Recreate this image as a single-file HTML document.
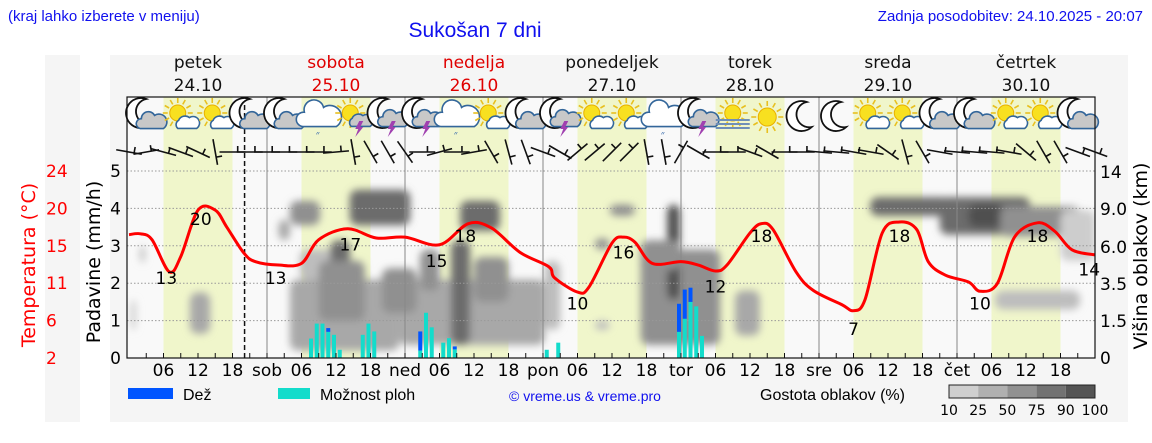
<!DOCTYPE html>
<html><head><meta charset="utf-8"><style>
html,body{margin:0;padding:0;background:#fff;width:1152px;height:443px;overflow:hidden}
svg{display:block}
.t{font-family:"DejaVu Sans","Liberation Sans",sans-serif}
.a{font-family:"Liberation Sans",sans-serif}
</style></head><body>
<svg id="c" width="1152" height="443" viewBox="0 0 1152 443" xmlns="http://www.w3.org/2000/svg">
<defs>
<clipPath id="plotclip"><rect x="127" y="97" width="968" height="261"/></clipPath>
<filter id="blur" x="-30%" y="-30%" width="160%" height="160%"><feGaussianBlur stdDeviation="4"/></filter>
</defs>
<rect x="45" y="55" width="35" height="367" fill="#f5f5f5"/>
<rect x="110" y="55" width="1018" height="367" fill="#f5f5f5"/>
<text x="8" y="21" class="a" font-size="15" fill="#1010ee">(kraj lahko izberete v meniju)</text>
<text x="475" y="37" class="a" font-size="21" fill="#1010ee" text-anchor="middle">Sukošan 7 dni</text>
<text x="1143" y="21" class="a" font-size="15" fill="#1010ee" text-anchor="end">Zadnja posodobitev: 24.10.2025 - 20:07</text>
<rect x="127" y="97" width="968" height="261" fill="#f9f9f9"/>
<g id="bands"></g>
<g id="clouds" clip-path="url(#plotclip)" filter="url(#blur)"></g>
<g id="grid"></g>
<g id="icons"></g>
<g id="wind"></g>
<g id="bars"></g>
<g id="temp"></g>
<g id="axes"></g>
<g id="legend">
<rect x="128" y="388" width="45" height="11" fill="#0055ff"/>
<text x="183" y="400" class="a" font-size="16">Dež</text>
<rect x="278" y="388" width="32" height="11" fill="#13dccb"/>
<text x="320" y="400" class="a" font-size="16">Možnost ploh</text>
<text x="585" y="401" class="a" font-size="14" fill="#1010ee" text-anchor="middle">© vreme.us &amp; vreme.pro</text>
<text x="760" y="400" class="a" font-size="16">Gostota oblakov (%)</text>
</g>
</svg>
<script>
const NS='http://www.w3.org/2000/svg';
// ---- data ----
const dayNames=['petek','sobota','nedelja','ponedeljek','torek','sreda','četrtek'];
const dayDates=['24.10','25.10','26.10','27.10','28.10','29.10','30.10'];
const dayAbbr=['sob','ned','pon','tor','sre','čet'];
const weekend=[false,true,true,false,false,false,false];
const leftTicks=[0,1,2,3,4,5];
const tempTicks=[2,6,11,15,20,24];
const rightTickLabels=['0','1.5','3.5','6.0','9.0','14'];
const tempHours=[0,2,4,7,9,12,15,17,20,22,26,30,33,38,43,48,54,59,63,68,73,74,78,80,84,86,88,91,96,99,102,104,108,110,112,116,119,124,126,128,131,134,137,139,142,146,148,151,154,158,161,164,168];
const tempVals=[16.6,16.7,16.0,12.2,14.0,19.5,19.5,17.5,14.4,13.4,13.0,13.2,16.0,17.3,16.2,16.3,15.4,17.9,17.4,14.5,12.8,11.5,9.8,10.4,15.6,16.3,15.7,13.2,13.4,13.0,12.3,13.0,16.8,17.9,17.2,12.2,10.0,8.3,7.6,8.9,16.8,18.1,17.2,13.4,11.8,11.0,9.9,10.8,16.3,18.0,17.0,14.8,14.2];
const labelHours=[6.5,12.5,25.5,38.5,53.5,58.5,78,86,102,110,126,134,148,158,167];
const labelVals=[13,20,13,17,15,18,10,16,12,18,7,18,10,18,14];
const barHours=[32,33,34,35,36,37,41,42,43,51,52,53,55,56,57,73,75,96,97,98,99,100];
const showerVals=[0.52,0.92,0.92,0.70,0.62,0.22,0.62,0.92,0.71,0.20,1.21,0.82,0.41,0.53,0.23,0.22,0.41,0.70,1.05,1.50,1.38,0.59];
const rainVals=[0,0,0,0.10,0,0,0,0,0,0.51,0,0,0,0,0.08,0,0,0.75,0.78,0.38,0,0];
const iconTypes=['mc','sc','sc','mc','mc','cr','st','mt','mt','cr','sc','mc','mt','sc','sc','cr','mt','fs','s','m','m','sc','sc','mc','mc','sc','sc','mc'];
const windAngles=[10,-10,15,20,25,80,0,0, 0,0,0,0,-5,80,60,60, 55,0,-15,0,-10,60,75,70, 20,30,-40,-40,-45,-45,80,80, -60,30,0,0,20,30,0,0, 5,5,10,10,35,75,60,10, 5,5,5,10,40,60,60,20, 20];
const cloudH0=[0.3,1.9,10.6,28,29.7,35,38.4,28,26,47,56,57.6,50.6,72.3,81,83.6,81,89,93.6,89,105.4,128.9,141,146,151.5,150.6,162,33,44,60];
const cloudH1=[1.2,2.8,14.1,47,36.7,38.4,48.9,33.2,28,72.3,59.3,64.5,54,75,83.6,88,83.6,102.8,95.8,95.8,109.7,142.8,156.7,152,165.4,165.4,168,41,50,66];
const cloudU0=[0.75,2.55,0.65,0.2,2.1,1.3,3.55,3.55,3.15,0.35,0.35,3.4,1.8,0.75,2.9,3.8,0.75,0.35,1.55,2.35,0.6,3.8,3.3,3.5,3.25,1.3,2.6,1.0,1.2,1.5];
const cloudU1=[1.55,3.0,1.75,2.1,2.9,3.15,4.5,4.2,3.7,2.1,3.15,4.2,2.9,2.6,3.2,4.1,1.0,2.9,4.1,3.15,1.8,4.3,4.3,4.1,4.05,1.8,3.95,2.6,2.4,2.7];
const cloudD=[25,35,40,40,35,75,80,60,40,45,80,70,55,35,50,55,35,50,85,60,40,75,70,88,55,35,25,60,55,50];
const cbLabels=['10','25','50','75','90','100'];
const cbColors=['#cfcfcf','#b0b0b0','#919191','#727272','#545454'];
// ---- scales ----
const X=h=>129+h*5.75;
const YP=u=>358-u*37.4;
const YT=t=>358-(t-2)*8.45;
const rightY=[358,321,284,247,209,172];
function mk(tag,attrs,parent,txt){const e=document.createElementNS(NS,tag);for(const k in attrs)e.setAttribute(k,attrs[k]);if(txt!==undefined)e.textContent=txt;parent.appendChild(e);return e;}
const g=id=>document.getElementById(id);
// bands
for(let d=0;d<7;d++){
  const r=mk('rect',{x:X(24*d+6),y:97,width:X(24*d+18)-X(24*d+6),height:261,fill:'#f0f6cb'},g('bands'));
  
  
}
// clouds
function dcol(d){if(d>=85)return '#505050';if(d>=70)return '#6c6c6c';if(d>=50)return '#909090';if(d>=40)return '#a8a8a8';if(d>=30)return '#bdbdbd';return '#cdcdcd';}
for(let i=0;i<cloudD.length;i++){
  const r=mk('rect',{x:X(cloudH0[i]),y:YP(cloudU1[i]),width:X(cloudH1[i])-X(cloudH0[i]),height:YP(cloudU0[i])-YP(cloudU1[i]),rx:8,fill:dcol(cloudD[i])},g('clouds'));
  
  
}
// grid
for(let u=1;u<=5;u++){
  const l=mk('line',{x1:127,x2:1095,y1:YP(u),y2:YP(u),stroke:'#999','stroke-width':1,'stroke-dasharray':'1.5,2'},g('grid'));
  
  
}
for(let d=1;d<7;d++){
  const l=mk('line',{x1:X(24*d),x2:X(24*d),y1:97,y2:358,stroke:'#888','stroke-width':1},g('grid'));
  
  
}
const nowL=mk('line',{x1:X(20.1),x2:X(20.1),y1:97,y2:358,stroke:'#111','stroke-width':1.5,'stroke-dasharray':'5,3'},g('grid'));


// icons
function moon(p,cx,cy){mk('path',{d:`M${cx+5} ${cy-15} A15 15 0 1 0 ${cx+10} ${cy+10} A12 12 0 1 1 ${cx+5} ${cy-15} Z`,fill:'#fff',stroke:'#111','stroke-width':1.8},p);}
function sun(p,cx,cy,r){for(let k=0;k<12;k++){const a=k*Math.PI/6;mk('line',{x1:cx+Math.cos(a)*(r+2),y1:cy+Math.sin(a)*(r+2),x2:cx+Math.cos(a)*(r+7),y2:cy+Math.sin(a)*(r+7),stroke:'#e8c020','stroke-width':1.6},p);}mk('circle',{cx,cy,r,fill:'#f8e020',stroke:'#e8b000'},p);}
function cloud(p,cx,cy,s,fill){mk('path',{d:`M${cx-10*s} ${cy+6*s} A5 5 0 0 1 ${cx-9*s} ${cy-3*s} A7 7 0 0 1 ${cx+3*s} ${cy-6*s} A6 6 0 0 1 ${cx+11*s} ${cy+6*s} Z`,fill,stroke:'#33669a','stroke-width':1.6},p);}
function bolt(p,cx,cy){mk('path',{d:`M${cx} ${cy} l-4 8 h3 l-3 8 l8 -10 h-3 l3 -6 z`,fill:'#a040b0'},p);}
iconTypes.forEach((t,i)=>{
  const cx=X(6*i+3),cy=117;
  const p=mk('g',{},g('icons'));
  
  
  if(t==='mc'){moon(p,cx-5,cy-3);cloud(p,cx+5,cy+5,1.1,'#c8c8c8');}
  else if(t==='sc'){sun(p,cx-3,cy-4,8);cloud(p,cx+6,cy+6,0.9,'#fff');}
  else if(t==='cr'){cloud(p,cx,cy,1.6,'#fff');mk('text',{x:cx-3,y:cy+21,'font-size':11,fill:'#3366aa'},p,'״');}
  else if(t==='st'){sun(p,cx-3,cy-4,8);cloud(p,cx+7,cy+4,0.9,'#c8c8c8');bolt(p,cx+6,cy+4);}
  else if(t==='mt'){moon(p,cx-5,cy-3);cloud(p,cx+5,cy+3,1.1,'#c8c8c8');bolt(p,cx+4,cy+4);}
  else if(t==='fs'){sun(p,cx,cy-4,8);for(let k=0;k<3;k++)mk('rect',{x:cx-17,y:cy+2+k*4,width:34,height:2,fill:'#6f8fb8'},p);}
  else if(t==='s'){sun(p,cx,cy,9);}
  else if(t==='m'){moon(p,cx,cy);}
});
// wind
windAngles.forEach((a,i)=>{
  const cx=X(3*i),cy=152,L=13,r=a*Math.PI/180;
  const dx=Math.cos(r)*L,dy=Math.sin(r)*L;
  const p=mk('g',{stroke:'#111','stroke-width':1.6,fill:'none'},g('wind'));
  
  
  mk('line',{x1:cx-dx,y1:cy-dy,x2:cx+dx,y2:cy+dy},p);
  const px=-Math.sin(r)*6,py=Math.cos(r)*6;
  mk('line',{x1:cx+dx*0.4,y1:cy+dy*0.4,x2:cx+dx*0.4-px,y2:cy+dy*0.4-py},p);
});
// bars
barHours.forEach((h,i)=>{
  const x=X(h)-4;
  const c=mk('rect',{x,y:YP(showerVals[i]),width:4,height:YP(0)-YP(showerVals[i]),fill:'#13dccb'},g('bars'));
  
  
  if(rainVals[i]>0){
    const b=mk('rect',{x,y:YP(showerVals[i]+rainVals[i]),width:4,height:YP(showerVals[i])-YP(showerVals[i]+rainVals[i]),fill:'#0055ff'},g('bars'));
    
    
  }
});
// temperature
const pts=tempHours.map((h,i)=>[X(h),YT(tempVals[i])]);
let d=`M${pts[0][0]} ${pts[0][1]}`;
for(let i=0;i<pts.length-1;i++){const p0=pts[Math.max(0,i-1)],p1=pts[i],p2=pts[i+1],p3=pts[Math.min(pts.length-1,i+2)];
  d+=` C${p1[0]+(p2[0]-p0[0])/6} ${p1[1]+(p2[1]-p0[1])/6} ${p2[0]-(p3[0]-p1[0])/6} ${p2[1]-(p3[1]-p1[1])/6} ${p2[0]} ${p2[1]}`;}
const tl=mk('path',{d,fill:'none',stroke:'#ff0000','stroke-width':3,'stroke-linejoin':'round'},g('temp'));


labelHours.forEach((h,i)=>{
  const t=mk('text',{x:X(h),y:YT(labelVals[i])+19,'text-anchor':'middle','font-size':17,class:'t'},g('temp'),String(labelVals[i]));
  
  
});
// axes
const A=g('axes');
const fr=mk('rect',{x:127,y:97,width:968,height:261,fill:'none',stroke:'#111','stroke-width':1.2},A);


for(let h=3;h<168;h+=3){mk('line',{x1:X(h),x2:X(h),y1:358,y2:353,stroke:'#111'},A);}
leftTicks.forEach(u=>{const t=mk('text',{x:121,y:YP(u)+6,'text-anchor':'end','font-size':17,class:'t'},A,String(u));
  
  });
tempTicks.forEach((v,i)=>{const t=mk('text',{x:46,y:YP(i)+6,'font-size':17,fill:'#ff0000',class:'t'},A,String(v));
  
  });
rightTickLabels.forEach((s,i)=>{const t=mk('text',{x:1100,y:rightY[i]+6,'font-size':17,class:'t'},A,s);
  
  });
for(let dd=0;dd<7;dd++){
  ['06','12','18'].forEach((s,k)=>{const t=mk('text',{x:X(24*dd+6*(k+1)),y:376,'text-anchor':'middle','font-size':17,class:'t'},A,s);
    
    });
  if(dd>0){const t=mk('text',{x:X(24*dd),y:376,'text-anchor':'middle','font-size':17,class:'t'},A,dayAbbr[dd-1]);
    
    }
  const col=weekend[dd]?'#e00000':'#111';
  const n=mk('text',{x:X(24*dd+12),y:68,'text-anchor':'middle','font-size':17,fill:col,class:'t'},A,dayNames[dd]);
  
  
  const dt=mk('text',{x:X(24*dd+12),y:91,'text-anchor':'middle','font-size':17,fill:col,class:'t'},A,dayDates[dd]);
  
  
}
const yl=mk('text',{transform:'translate(100,262) rotate(-90)','text-anchor':'middle','font-size':19,class:'t'},A,'Padavine (mm/h)');


const tt=mk('text',{transform:'translate(35,265) rotate(-90)','text-anchor':'middle','font-size':19,fill:'#ff0000',class:'t'},A,'Temperatura (°C)');


const rt=mk('text',{transform:'translate(1147,256) rotate(-90)','text-anchor':'middle','font-size':19,class:'t'},A,'Višina oblakov (km)');


// colorbar
cbColors.forEach((c,i)=>{const r=mk('rect',{x:949+i*29.2,y:385,width:29.2,height:13,fill:c},g('legend'));
  
  });
mk('rect',{x:949,y:385,width:146,height:13,fill:'none',stroke:'#222'},g('legend'));
cbLabels.forEach((s,i)=>{const t=mk('text',{x:949+i*29.2,y:415,'text-anchor':'middle','font-size':14,class:'t'},g('legend'),s);
  
  });
</script>
</body></html>
